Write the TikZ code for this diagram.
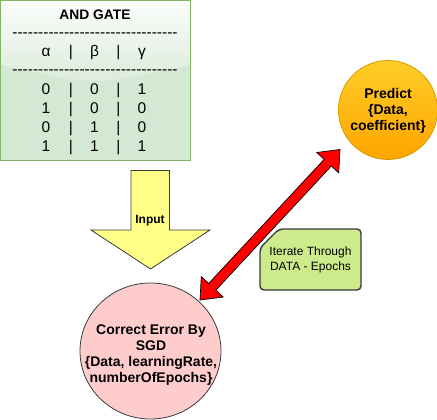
\documentclass[tikz,border=0pt]{standalone}
\usepackage{fontspec}
\setmainfont{Liberation Sans}
\usetikzlibrary{calc,shapes.geometric,fadings}
\definecolor{tblfill}{HTML}{D5E8D4}
\definecolor{tblline}{HTML}{82B366}
\definecolor{darkline}{HTML}{36393D}
\definecolor{yelfill}{HTML}{FFFF88}
\definecolor{pinkfill}{HTML}{FFCCCC}
\definecolor{notefill}{HTML}{CDEB8B}
\definecolor{orTop}{HTML}{FFCD28}
\definecolor{orBot}{HTML}{FFA500}
\definecolor{orLine}{HTML}{D79B00}
\definecolor{arrred}{HTML}{FF0000}
\tikzfading[name=glassfade, top color=transparent!10, bottom color=transparent!85]
\begin{document}
\begin{tikzpicture}[x=1pt,y=-1pt,
  tabtxt/.style={font=\fontsize{15.5}{17}\selectfont, anchor=base, inner sep=0pt},
  titletxt/.style={font=\bfseries\fontsize{13.8}{16}\selectfont, inner sep=0pt},
  lbl/.style={font=\bfseries\fontsize{14}{16}\selectfont, align=center, inner sep=0pt},
  notetext/.style={font=\fontsize{12}{14.4}\selectfont, align=center, inner sep=0pt},
  inarrow/.style={draw=darkline, fill=yelfill, line width=0.8pt, line join=miter},
  pinkc/.style={ellipse, draw=darkline, fill=pinkfill, line width=0.8pt, inner sep=0pt},
  orc/.style={circle, draw=orLine, top color=orTop, bottom color=orBot, line width=0.8pt, inner sep=0pt},
  notebox/.style={draw=darkline, fill=notefill, line width=1.4pt, rounded corners=4pt},
  redarrow/.style={draw=black, fill=arrred, line width=0.7pt, line join=miter}
]
\useasboundingbox (0,0) rectangle (437,420);

% table box
\node[fill=tblfill, minimum width=189.8pt, minimum height=159.5pt, anchor=north west, inner sep=0pt] (tbl) at (0.5,0.5) {};
\fill[white, path fading=glassfade] (tbl.north west) -- ($(tbl.north west)+(0,64)$) .. controls ($(tbl.north west)+(95,86)$) .. ($(tbl.north east)+(0,64)$) -- (tbl.north east) -- cycle;
\draw[tblline, line width=1pt] (tbl.north west) rectangle (tbl.south east);

\node[titletxt] (title) at (95,15) {AND GATE};
\node[tabtxt] (dashA) at (95,37.3) {\foreach \i in {1,...,32}{-}};
\node[tabtxt] (dashB) at (95,74.3) {\foreach \i in {1,...,32}{-}};
\node[tabtxt] (ha) at (46,57) {α};
\node[tabtxt] (hb1) at (71,57) {|};
\node[tabtxt] (hb) at (94.5,57) {β};
\node[tabtxt] (hb2) at (118.5,57) {|};
\node[tabtxt] (hg) at (142,57) {γ};
\foreach \a/\b/\c [count=\r] in {0/0/1,1/0/0,0/1/0,1/1/1}{
  \pgfmathsetmacro{\yy}{95+(\r-1)*18.8}
  \node[tabtxt] (r\r a) at (46,\yy) {\a};
  \node[tabtxt] (r\r p) at (71,\yy) {|};
  \node[tabtxt] (r\r b) at (94.5,\yy) {\b};
  \node[tabtxt] (r\r q) at (118.5,\yy) {|};
  \node[tabtxt] (r\r c) at (142,\yy) {\c};
}

% input arrow
\draw[inarrow] (131,170.5) -- (169.5,170.5) -- (169.5,230) -- (210,230) -- (150.5,269) -- (91,230) -- (131,230) -- cycle;
\node[font=\bfseries\fontsize{12}{14}\selectfont, inner sep=0pt] (inlbl) at (150,221) {Input};

% pink ellipse
\node[pinkc, minimum width=141pt, minimum height=136pt] (sgd) at (150.5,351) {};
\node[lbl] (sgdtxt) at (151,355.5) {Correct Error By\\SGD\\\{Data, learningRate,\\numberOfEpochs\}};

% orange circle
\node[orc, minimum size=99pt] (pred) at (388,110) {};
\node[lbl] (predtxt) at (388,111) {Predict\\\{Data,\\coefficient\}};

% note
\draw[notebox] (260,248) -- (260,290) -- (361,290) -- (361,229) -- (279,229) -- cycle;
\node[notetext] (notetxt) at (310.5,260) {Iterate Through\\DATA - Epochs};

% red double arrow
\coordinate (rA) at (200,300);
\coordinate (rB) at (340,149.5);
\coordinate (hA) at ($(rA)!18pt!(rB)$);
\coordinate (hB) at ($(rB)!18pt!(rA)$);
\draw[redarrow] (rA) -- ($(hA)!15pt!90:(rB)$) -- ($(hA)!4.9pt!90:(rB)$) -- ($(hB)!4.9pt!-90:(rA)$) -- ($(hB)!15pt!-90:(rA)$) -- (rB) -- ($(hB)!15pt!90:(rA)$) -- ($(hB)!4.9pt!90:(rA)$) -- ($(hA)!4.9pt!-90:(rB)$) -- ($(hA)!15pt!-90:(rB)$) -- cycle;
\end{tikzpicture}
\end{document}
